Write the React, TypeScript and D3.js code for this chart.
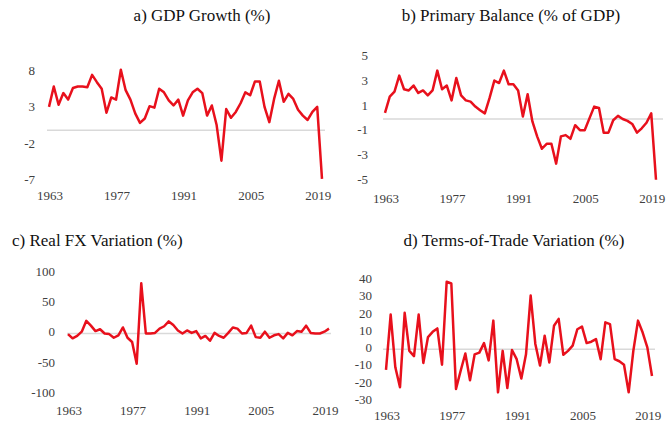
import * as d3 from 'd3';

const years = d3.range(1963, 2021);
const yearTicks = [1963, 1977, 1991, 2005, 2019];

const gdpGrowth = [
    3.2, 6.0, 3.5, 5.1, 4.2, 5.8, 6.0, 6.0, 5.9, 7.6, 6.6, 5.7, 2.4, 4.5, 4.2, 8.3, 5.5, 4.2, 2.3, 1.0,
    1.6, 3.3, 3.1, 5.7, 5.2, 4.1, 3.4, 4.2, 2.0, 4.1, 5.2, 5.7, 5.1, 2.0, 3.4, 0.7, -4.2, 2.9, 1.7, 2.5,
    3.7, 5.2, 4.8, 6.7, 6.7, 3.2, 1.1, 4.3, 6.8, 3.9, 5.0, 4.3, 2.8, 2.0, 1.4, 2.5, 3.2, -6.7,
];
const primaryBalance = [
    0.5, 1.8, 2.2, 3.5, 2.4, 2.3, 2.7, 2.1, 2.3, 1.9, 2.3, 3.9, 2.4, 2.7, 1.5, 3.3, 1.9, 1.5, 1.4, 1.0,
    0.7, 0.45, 1.7, 3.1, 2.9, 3.9, 2.8, 2.8, 2.3, 0.2, 2.0, -0.2, -1.4, -2.4, -2.0, -2.0, -3.6, -1.4, -1.3, -1.6,
    -0.5, -0.9, -0.9, 0.05, 1.0, 0.9, -1.1, -1.1, -0.1, 0.25, 0.0, -0.15, -0.4, -1.1, -0.75, -0.3, 0.45, -4.9,
];
const realFx = [
    -1, -8, -4, 3, 21, 13, 4, 7, 0, -1, -7, -3, 10, -7, -14, -50, 83, 0, 0, 1,
    8, 12, 20, 14, 5, 0, 5, 1, 4, -8, -4, -12, 1, -4, -7, 1, 10, 8, 0, 1,
    13, -6, -7, 3, -7, -3, -1, -8, 1, -3, 4, 3, 13, 1, 0, 0, 3, 8,
];
const termsOfTrade = [
    -12, 20, -10.5, -22, 21, -1, -4, 20, -8, 7, 10, 12, -9, 39, 38, -23, -12.5, -2.5, -18, -3,
    -2, 3.5, -6.5, 16.5, -25, -1, -22.5, -0.5, -5.8, -17, -3, 31, 3, -9.5, 7.8, -7.7, 13.5, 17.5, -3.3, -1,
    2, 11.5, 13, 3.5, 4.3, 5.8, -5.8, 15.5, 14.5, -5.8, -7, -9, -25, -1, 16.5, 9.6, 1, -15.5,
];

const gdpTicks = [8, 3, -2, -7];
const pbTicks = [5, 3, 1, -1, -3, -5];
const fxTicks = [100, 50, 0, -50, -100];
const totTicks = [40, 30, 20, 10, 0, -10, -20, -30];

const font = 'Liberation Serif';
const red = '#e8101c';
const grey = '#404040';

interface PanelProps {
    title: string;
    titleX: number;
    titleY: number;
    titleAnchor: 'start' | 'middle';
    values: number[];
    ticks: number[];
    x0: number;
    x1: number;
    y0: number; // pixel of first tick (top)
    y1: number; // pixel of last tick (bottom)
    zeroFrom: number;
    zeroTo: number;
    labelRight: number;
    yearLabelY: number;
}

function Panel(p: PanelProps) {
    const xScale = d3.scaleLinear().domain([1963, 2020]).range([p.x0, p.x1]);
    const yScale = d3
        .scaleLinear()
        .domain([p.ticks[0], p.ticks[p.ticks.length - 1]])
        .range([p.y0, p.y1]);

    const line = d3
        .line<number>()
        .x((_, i) => xScale(years[i]))
        .y((d) => yScale(d));

    return (
        <g style={{ fontFamily: font }}>
            <text x={p.titleX} y={p.titleY} textAnchor={p.titleAnchor} dominantBaseline='middle' fontSize={17} fill='#111'>
                {p.title}
            </text>
            <line x1={p.zeroFrom} x2={p.zeroTo} y1={yScale(0)} y2={yScale(0)} stroke='#d9d9d9' strokeWidth={1.5} />
            {p.ticks.map((t) => (
                <text key={t} x={p.labelRight} y={yScale(t)} textAnchor='end' dominantBaseline='middle' fontSize={13} fill={grey}>
                    {t}
                </text>
            ))}
            {yearTicks.map((yr) => (
                <text key={yr} x={xScale(yr) + 1} y={p.yearLabelY} textAnchor='middle' dominantBaseline='middle' fontSize={13} fill={grey}>
                    {yr}
                </text>
            ))}
            <path d={line(p.values) ?? ''} fill='none' stroke={red} strokeWidth={2.5} strokeLinejoin='round' />
        </g>
    );
}

export default function App() {
    const width = 671;
    const height = 424;

    return (
        <svg
            width={width}
            height={height}
            viewBox={`0 0 ${width} ${height}`}
            style={{ position: 'absolute', left: 0, top: 0, background: '#fff' }}
        >
            <Panel
                title='a) GDP Growth (%)'
                titleX={202}
                titleY={17}
                titleAnchor='middle'
                values={gdpGrowth}
                ticks={gdpTicks}
                x0={49}
                x1={322}
                y0={72}
                y1={181}
                zeroFrom={47}
                zeroTo={325}
                labelRight={35}
                yearLabelY={197}
            />
            <Panel
                title='b) Primary Balance (% of GDP)'
                titleX={511}
                titleY={17}
                titleAnchor='middle'
                values={primaryBalance}
                ticks={pbTicks}
                x0={385}
                x1={656}
                y0={57}
                y1={181}
                zeroFrom={383}
                zeroTo={663}
                labelRight={368}
                yearLabelY={200}
            />
            <Panel
                title='c) Real FX Variation (%)'
                titleX={12}
                titleY={242}
                titleAnchor='start'
                values={realFx}
                ticks={fxTicks}
                x0={68}
                x1={329}
                y0={273}
                y1={394}
                zeroFrom={67}
                zeroTo={331}
                labelRight={55}
                yearLabelY={412}
            />
            <Panel
                title='d) Terms-of-Trade Variation (%)'
                titleX={514}
                titleY={242}
                titleAnchor='middle'
                values={termsOfTrade}
                ticks={totTicks}
                x0={386}
                x1={652}
                y0={280}
                y1={401}
                zeroFrom={383}
                zeroTo={655}
                labelRight={372}
                yearLabelY={417}
            />
        </svg>
    );
}
